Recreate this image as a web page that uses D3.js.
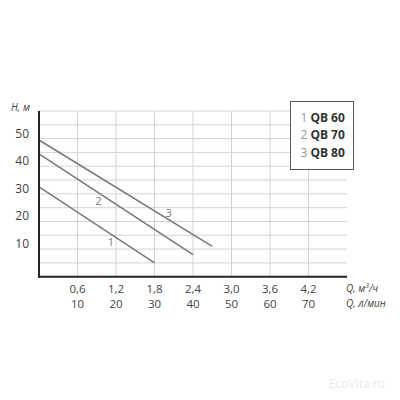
<!DOCTYPE html>
<html>
<head>
<meta charset="utf-8">
<script src="https://d3js.org/d3.v7.min.js"></script>
<style>
body { margin: 0; background: #fff; }
svg text { font-family: "Open Sans", "Noto Sans", sans-serif; }
</style>
</head>
<body>
<div id="chart"></div>
<script>
// flow ticks, m3/h and l/min
var qTicks = [0.6, 1.2, 1.8, 2.4, 3.0, 3.6, 4.2];
var qTickLabels = ["0,6", "1,2", "1,8", "2,4", "3,0", "3,6", "4,2"];
var lminLabels = ["10", "20", "30", "40", "50", "60", "70"];
var hTicks = [10, 20, 30, 40, 50];
// pump curves: [Q, H] end points
var names = ["QB 60", "QB 70", "QB 80"];
var curve1 = [[0, 32.5], [1.8, 5]];
var curve2 = [[0, 44.5], [2.4, 8]];
var curve3 = [[0, 49.5], [2.7, 11]];
var curveLabels = [[1.12, 12], [0.93, 27], [2.02, 22.6]];

var width = 400, height = 400;
var svg = d3.select("#chart").append("svg")
    .attr("width", width)
    .attr("height", height);

var x = d3.scaleLinear().domain([0, 4.8]).range([39, 347]);
var y = d3.scaleLinear().domain([0, 60]).range([276.7, 111]);

// grid
svg.append("g").selectAll("line")
    .data(d3.range(5, 61, 5))
    .enter().append("line")
    .attr("x1", x(0)).attr("x2", x(4.8))
    .attr("y1", d => y(d)).attr("y2", d => y(d))
    .attr("stroke", "#d4d4d4").attr("stroke-width", 1);
svg.append("g").selectAll("line")
    .data(qTicks)
    .enter().append("line")
    .attr("x1", d => x(d)).attr("x2", d => x(d))
    .attr("y1", y(0)).attr("y2", y(60))
    .attr("stroke", "#d4d4d4").attr("stroke-width", 1);

// curves
var line = d3.line().x(d => x(d[0])).y(d => y(d[1]));
[curve1, curve2, curve3].forEach(function (c) {
    svg.append("path").datum(c)
        .attr("d", line)
        .attr("fill", "none")
        .attr("stroke", "#7a7a7a")
        .attr("stroke-width", 1.6);
});
svg.selectAll(".clab").data(curveLabels).enter().append("text")
    .attr("x", d => x(d[0])).attr("y", d => y(d[1]))
    .attr("text-anchor", "middle").attr("dominant-baseline", "middle")
    .attr("font-size", 11).attr("fill", "#777")
    .text((d, i) => i + 1);

// axes
svg.append("line").attr("x1", x(0)).attr("x2", x(0))
    .attr("y1", y(60)).attr("y2", y(0) + 1)
    .attr("stroke", "#222").attr("stroke-width", 2);
svg.append("line").attr("x1", x(0) - 1).attr("x2", x(4.8))
    .attr("y1", y(0)).attr("y2", y(0))
    .attr("stroke", "#222").attr("stroke-width", 2);

// y tick labels
svg.selectAll(".ylab").data(hTicks).enter().append("text")
    .attr("x", 29).attr("y", d => y(d) - 1)
    .attr("text-anchor", "end")
    .attr("font-size", 12).attr("fill", "#444")
    .text(d => d);
svg.append("text").attr("x", 11).attr("y", 111)
    .attr("font-size", 10).attr("font-style", "italic").attr("fill", "#444")
    .text("H, м");

// x tick labels
svg.selectAll(".xlab").data(qTicks).enter().append("text")
    .attr("x", d => x(d)).attr("y", 292.5)
    .attr("text-anchor", "middle")
    .attr("font-size", 11.5).attr("fill", "#444")
    .text((d, i) => qTickLabels[i]);
svg.selectAll(".xlab2").data(qTicks).enter().append("text")
    .attr("x", d => x(d)).attr("y", 307.5)
    .attr("text-anchor", "middle")
    .attr("font-size", 11.5).attr("fill", "#444")
    .text((d, i) => lminLabels[i]);
var q1 = svg.append("text").attr("x", 346).attr("y", 292)
    .attr("font-size", 10).attr("font-style", "italic").attr("fill", "#444");
q1.append("tspan").text("Q, м");
q1.append("tspan").attr("font-size", 7).attr("dy", -4).text("3");
q1.append("tspan").attr("dy", 4).text("/ч");
svg.append("text").attr("x", 346).attr("y", 306.5)
    .attr("font-size", 10).attr("font-style", "italic").attr("fill", "#444")
    .text("Q, л/мин");

// legend
svg.append("rect").attr("x", 290.5).attr("y", 101.5)
    .attr("width", 63).attr("height", 68)
    .attr("fill", "#fff").attr("stroke", "#555").attr("stroke-width", 1);
names.forEach(function (n, i) {
    var t = svg.append("text").attr("x", 300.5).attr("y", 121.5 + i * 17.5)
        .attr("font-size", 12);
    t.append("tspan").attr("fill", "#999").text(i + 1);
    t.append("tspan").attr("dx", 3).attr("font-weight", "bold").attr("fill", "#333").text(n);
});

// watermark
svg.append("text").attr("x", 385).attr("y", 388)
    .attr("text-anchor", "end").attr("font-size", 12)
    .attr("fill", "#eaeaea").text("EcoVita.ru");
</script>
</body>
</html>
